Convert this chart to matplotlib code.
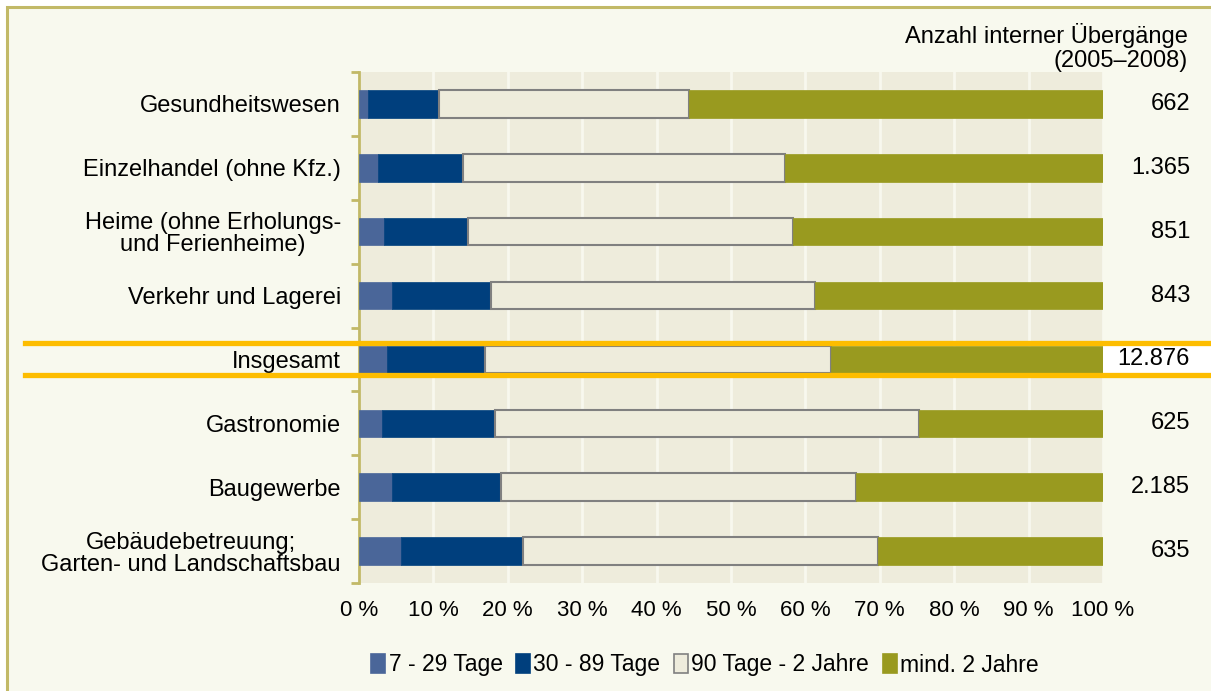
import matplotlib.pyplot as plt
import matplotlib.transforms as mtransforms
from matplotlib.patches import Rectangle, Patch
import numpy as np

plt.rcParams['font.family'] = ['Liberation Sans', 'DejaVu Sans']

# data (shares in percent, top to bottom)
branchen = ["Gesundheitswesen", "Einzelhandel (ohne Kfz.)",
            "Heime (ohne Erholungs-\nund Ferienheime)", "Verkehr und Lagerei",
            "Insgesamt", "Gastronomie", "Baugewerbe",
            "Gebäudebetreuung;\nGarten- und Landschaftsbau"]
tage_7_29 = [1.2, 2.5, 3.3, 4.4, 3.8, 3.1, 4.4, 5.7]
tage_30_89 = [9.6, 11.5, 11.3, 13.4, 13.2, 15.2, 14.7, 16.3]
tage_90_2j = [33.5, 43.3, 43.7, 43.5, 46.4, 57.0, 47.7, 47.7]
mind_2j = [55.7, 42.7, 41.7, 38.7, 36.6, 24.7, 33.2, 30.3]
anzahl = ["662", "1.365", "851", "843", "12.876", "625", "2.185", "635"]
serien = ["7 - 29 Tage", "30 - 89 Tage", "90 Tage - 2 Jahre", "mind. 2 Jahre"]

farben = ["#4a6699", "#003f7d", "#eeecdc", "#999a1f"]
kanten = ["#4a6699", "#003f7d", "#808080", "#999a1f"]

W, H = 1211, 691
fig = plt.figure(figsize=(W / 100, H / 100), dpi=100)
fig.patch.set_facecolor("white")

# outer frame (only left and top edge visible in the picture)
fig.add_artist(Rectangle((7 / W, -0.05), 1.1, (H - 7) / H + 0.05, transform=fig.transFigure,
                         facecolor="#f8f9ee", edgecolor="#c2b967", linewidth=2.2, zorder=-5))

ax = fig.add_axes([359 / W, 108 / H, 744 / W, 511 / H])
ax.set_facecolor("#eeecdc")

y = np.arange(len(branchen))
links = np.zeros(len(branchen))
for werte, name, fc, ec in zip([tage_7_29, tage_30_89, tage_90_2j, mind_2j], serien, farben, kanten):
    lw = 1.5 if ec == "#808080" else 0.5
    ax.barh(y, werte, left=links, height=0.43, color=fc, edgecolor=ec, linewidth=lw,
            label=name, zorder=3)
    links = links + np.array(werte)

ax.set_xlim(0, 100)
ax.set_ylim(len(branchen) - 0.5, -0.5)
ax.set_xticks(np.arange(0, 101, 10))
ax.set_xticklabels([f"{v} %" for v in range(0, 101, 10)], fontsize=16)
ax.tick_params(axis="x", length=0, pad=12)
ax.grid(axis="x", color="#f8f8ee", linewidth=2, zorder=1)

ax.set_yticks(y)
ax.set_yticklabels(branchen, fontsize=17, linespacing=1.0)
ax.set_yticks(np.arange(-0.5, len(branchen)), minor=True)
ax.tick_params(axis="y", which="major", length=0, pad=13)
ax.tick_params(axis="y", which="minor", length=6, width=2, color="#c2b967")
for lab in ax.get_yticklabels():
    lab.set_horizontalalignment("right")
    lab.set_multialignment("center")

for s in ["top", "right", "bottom"]:
    ax.spines[s].set_visible(False)
ax.spines["left"].set_color("#c2b967")
ax.spines["left"].set_linewidth(2)

# highlight Insgesamt row
trans = mtransforms.blended_transform_factory(fig.transFigure, ax.transData)
i_ges = branchen.index("Insgesamt")
fig.add_artist(Rectangle((1103 / W, i_ges - 0.25), 1 - 1103 / W, 0.5, transform=trans,
                         facecolor="white", edgecolor="none", zorder=2))
for dy in (-0.25, 0.25):
    fig.add_artist(plt.Line2D([25 / W, 1], [i_ges + dy, i_ges + dy], transform=trans,
                              color="#fdbd00", linewidth=3.8, zorder=5))

# counts on the right
for yi, n in zip(y, anzahl):
    fig.text(1190 / W, yi, n, transform=trans, ha="right", va="center", fontsize=17, zorder=6)
fig.text(1188 / W, 1 - 35 / H, "Anzahl interner Übergänge", ha="right", va="center", fontsize=17)
fig.text(1188 / W, 1 - 61 / H, "(2005–2008)", ha="right", va="center", fontsize=17)

handles = [Patch(facecolor=fc, edgecolor=ec, linewidth=1.2) for fc, ec in zip(farben, kanten)]
fig.legend(handles, serien, loc="center", bbox_to_anchor=(705 / W, 1 - 665 / H), ncol=4,
           frameon=False, fontsize=16.5, handlelength=0.6, handleheight=0.9,
           handletextpad=0.15, columnspacing=0.6)

fig.savefig("out.png", dpi=100, facecolor=fig.get_facecolor())
